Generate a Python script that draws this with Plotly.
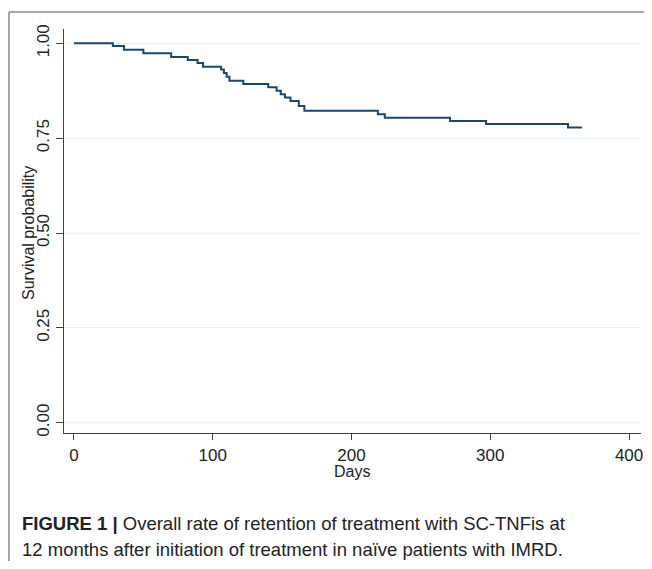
import plotly.graph_objects as go

# Kaplan-Meier step data
days = [0, 28, 36, 50, 70, 82, 89, 93, 106, 108, 110, 112, 122, 140, 146, 149,
        152, 156, 162, 166, 219, 224, 271, 297, 356, 366]
survival = [1.000, 0.993, 0.983, 0.974, 0.964, 0.956, 0.948, 0.938, 0.931, 0.922,
            0.912, 0.901, 0.893, 0.884, 0.875, 0.866, 0.857, 0.848, 0.835, 0.822,
            0.813, 0.804, 0.795, 0.787, 0.778, 0.778]

x_ticks = [0, 100, 200, 300, 400]
y_ticks = [0.0, 0.25, 0.5, 0.75, 1.0]
y_tick_labels = ["0.00", "0.25", "0.50", "0.75", "1.00"]

FONT = "Liberation Sans, Arial, sans-serif"
AX = "#404040"
TXT = "#222222"

OFF = 8  # page body margin
W, H = 644 - OFF, 569 - 2 * OFF
L, T = 56, 21
R = W - (641 - OFF)
B = H - (433 - OFF)
pw, ph = W - L - R, H - T - B

def px(x):
    return (x - OFF - L) / pw

def py(y):
    return (H - B - (y - OFF)) / ph

fig = go.Figure()
fig.add_trace(go.Scatter(
    x=days, y=survival, mode="lines", line_shape="hv",
    line=dict(color="#1a476f", width=2), showlegend=False, hoverinfo="skip"))

fig.update_layout(
    width=W, height=H,
    margin=dict(l=L, r=R, t=T, b=B, autoexpand=False),
    paper_bgcolor="white", plot_bgcolor="white",
    font=dict(family=FONT, size=17, color=TXT),
    xaxis=dict(range=[-7.2, 408.6], tickvals=x_ticks, ticks="outside", ticklen=6,
               tickcolor=AX, tickwidth=1.2, showline=True, linecolor=AX, linewidth=1.2,
               showgrid=False, zeroline=False,
               tickfont=dict(family=FONT, size=17, color=TXT)),
    yaxis=dict(range=[-0.0271, 1.0377], tickvals=y_ticks, ticktext=y_tick_labels,
               tickangle=-90, ticks="outside", ticklen=7, tickcolor=AX, tickwidth=1.2,
               showline=True, linecolor=AX, linewidth=1.2,
               showgrid=True, gridcolor="#e3eff2", gridwidth=1.2, zeroline=False,
               tickfont=dict(family=FONT, size=17, color=TXT)),
    annotations=[
        dict(text="Survival probability", textangle=-90, x=px(28), y=py(233),
             xref="paper", yref="paper", xanchor="center", yanchor="middle",
             showarrow=False, font=dict(family=FONT, size=16, color=TXT)),
        dict(text="Days", x=px(352), y=py(471), xref="paper", yref="paper",
             xanchor="center", yanchor="middle", showarrow=False,
             font=dict(family=FONT, size=16, color=TXT)),
        dict(text="<b>FIGURE 1 |</b> Overall rate of retention of treatment with SC-TNFis at",
             x=px(20), y=py(523), xref="paper", yref="paper", xanchor="left",
             yanchor="middle", showarrow=False, align="left",
             font=dict(family=FONT, size=18.5, color=TXT)),
        dict(text="12 months after initiation of treatment in naïve patients with IMRD.",
             x=px(20), y=py(549), xref="paper", yref="paper", xanchor="left",
             yanchor="middle", showarrow=False, align="left",
             font=dict(family=FONT, size=18.5, color=TXT)),
    ],
    shapes=[
        dict(type="line", xref="paper", yref="paper", x0=px(9), x1=px(660),
             y0=py(12), y1=py(12), line=dict(color="#8a8a8a", width=1.5)),
        dict(type="line", xref="paper", yref="paper", x0=px(9), x1=px(9),
             y0=py(12), y1=py(580), line=dict(color="#8a8a8a", width=1.5)),
    ],
)

fig.write_html("out.html")
